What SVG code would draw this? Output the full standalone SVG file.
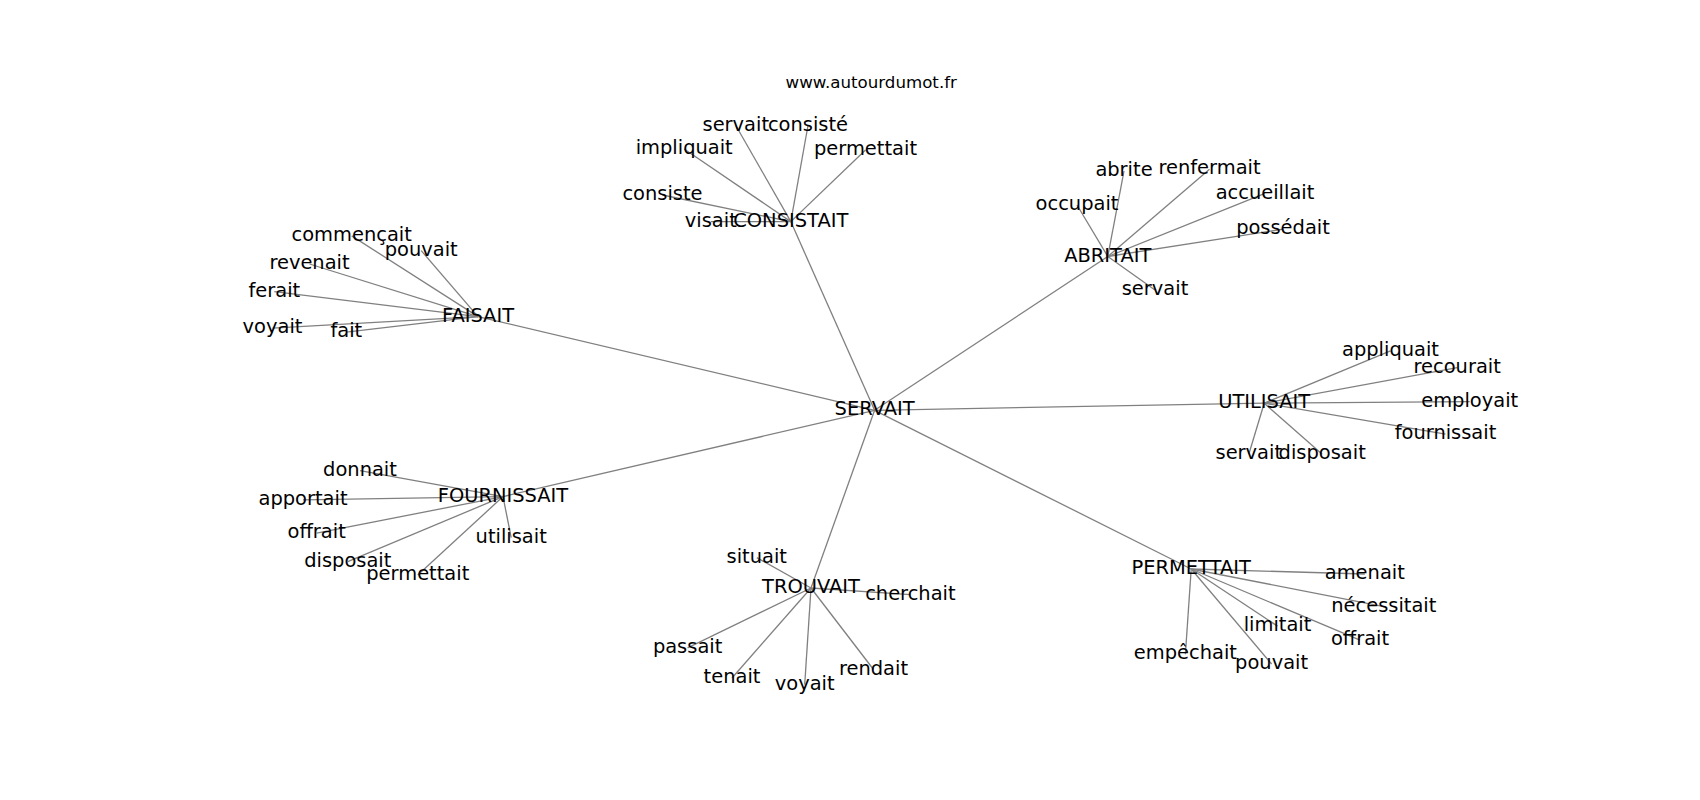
<svg xmlns="http://www.w3.org/2000/svg" width="1700" height="800" viewBox="0 0 1700 800">
<style>
text{font-family:"DejaVu Sans","Liberation Sans",sans-serif;fill:#000;text-anchor:middle}
.n text{font-size:19.44px}
.t{font-size:16.67px}
#edges line{stroke:#808080;stroke-width:1.3}
</style>
<rect width="1700" height="800" fill="#fff"/>
<text class="t" x="871.25" y="88">www.autourdumot.fr</text>
<g id="edges">
<line x1="874.6" y1="410.3" x2="790.8" y2="221.6"/>
<line x1="874.6" y1="410.3" x2="1107.8" y2="256.5"/>
<line x1="874.6" y1="410.3" x2="478" y2="316.6"/>
<line x1="874.6" y1="410.3" x2="1264.2" y2="403.2"/>
<line x1="874.6" y1="410.3" x2="503" y2="496.6"/>
<line x1="874.6" y1="410.3" x2="811" y2="588"/>
<line x1="874.6" y1="410.3" x2="1191.2" y2="569"/>
<line x1="790.8" y1="221.6" x2="735.8" y2="125.5"/>
<line x1="790.8" y1="221.6" x2="808" y2="125.5"/>
<line x1="790.8" y1="221.6" x2="684.2" y2="149"/>
<line x1="790.8" y1="221.6" x2="865.5" y2="150"/>
<line x1="790.8" y1="221.6" x2="662.5" y2="195"/>
<line x1="790.8" y1="221.6" x2="710.8" y2="221.6"/>
<line x1="1107.8" y1="256.5" x2="1124" y2="171"/>
<line x1="1107.8" y1="256.5" x2="1209.5" y2="169.2"/>
<line x1="1107.8" y1="256.5" x2="1077" y2="205"/>
<line x1="1107.8" y1="256.5" x2="1265" y2="193.4"/>
<line x1="1107.8" y1="256.5" x2="1283" y2="229.2"/>
<line x1="1107.8" y1="256.5" x2="1155" y2="290"/>
<line x1="478" y1="316.6" x2="351.7" y2="235.9"/>
<line x1="478" y1="316.6" x2="421.2" y2="250.6"/>
<line x1="478" y1="316.6" x2="309.5" y2="264"/>
<line x1="478" y1="316.6" x2="274.3" y2="291.6"/>
<line x1="478" y1="316.6" x2="272.5" y2="328.2"/>
<line x1="478" y1="316.6" x2="346.3" y2="332.2"/>
<line x1="1264.2" y1="403.2" x2="1390.5" y2="350.9"/>
<line x1="1264.2" y1="403.2" x2="1457.2" y2="367.6"/>
<line x1="1264.2" y1="403.2" x2="1469.7" y2="401.6"/>
<line x1="1264.2" y1="403.2" x2="1445.5" y2="434.2"/>
<line x1="1264.2" y1="403.2" x2="1248.8" y2="454.2"/>
<line x1="1264.2" y1="403.2" x2="1322.2" y2="454.2"/>
<line x1="503" y1="496.6" x2="360" y2="470.6"/>
<line x1="503" y1="496.6" x2="303" y2="499.9"/>
<line x1="503" y1="496.6" x2="316.7" y2="533.2"/>
<line x1="503" y1="496.6" x2="347.8" y2="561.6"/>
<line x1="503" y1="496.6" x2="417.8" y2="574.9"/>
<line x1="503" y1="496.6" x2="511.2" y2="537.6"/>
<line x1="811" y1="588" x2="756.8" y2="557.6"/>
<line x1="811" y1="588" x2="910.4" y2="594.6"/>
<line x1="811" y1="588" x2="687.6" y2="647.8"/>
<line x1="811" y1="588" x2="732" y2="678"/>
<line x1="811" y1="588" x2="804.7" y2="684.6"/>
<line x1="811" y1="588" x2="873.5" y2="669.5"/>
<line x1="1191.2" y1="569" x2="1364.8" y2="574"/>
<line x1="1191.2" y1="569" x2="1383.8" y2="606.6"/>
<line x1="1191.2" y1="569" x2="1277.5" y2="626.1"/>
<line x1="1191.2" y1="569" x2="1360" y2="640.2"/>
<line x1="1191.2" y1="569" x2="1185.4" y2="654.3"/>
<line x1="1191.2" y1="569" x2="1271.6" y2="664"/>
</g>
<g id="n-servait" class="n"><text x="874.6" y="415.4">SERVAIT</text></g>
<g id="n-consistait" class="n"><text x="790.8" y="226.7">CONSISTAIT</text></g>
<g id="n-abritait" class="n"><text x="1107.8" y="261.6">ABRITAIT</text></g>
<g id="n-faisait" class="n"><text x="478" y="321.7">FAISAIT</text></g>
<g id="n-utilisait" class="n"><text x="1264.2" y="408.3">UTILISAIT</text></g>
<g id="n-fournissait" class="n"><text x="503" y="501.7">FOURNISSAIT</text></g>
<g id="n-trouvait" class="n"><text x="811" y="593.1">TROUVAIT</text></g>
<g id="n-permettait" class="n"><text x="1191.2" y="574.1">PERMETTAIT</text></g>
<g id="n-c-servait" class="n"><text x="735.8" y="130.6">servait</text></g>
<g id="n-c-consiste2" class="n"><text x="808" y="130.6">consisté</text></g>
<g id="n-c-impliquait" class="n"><text x="684.2" y="154.1">impliquait</text></g>
<g id="n-c-permettait" class="n"><text x="865.5" y="155.1">permettait</text></g>
<g id="n-c-consiste" class="n"><text x="662.5" y="200.1">consiste</text></g>
<g id="n-c-visait" class="n"><text x="710.8" y="226.7">visait</text></g>
<g id="n-a-abrite" class="n"><text x="1124" y="176.1">abrite</text></g>
<g id="n-a-renfermait" class="n"><text x="1209.5" y="174.3">renfermait</text></g>
<g id="n-a-occupait" class="n"><text x="1077" y="210.1">occupait</text></g>
<g id="n-a-accueillait" class="n"><text x="1265" y="198.5">accueillait</text></g>
<g id="n-a-possedait" class="n"><text x="1283" y="234.3">possédait</text></g>
<g id="n-a-servait" class="n"><text x="1155" y="295.1">servait</text></g>
<g id="n-f-commencait" class="n"><text x="351.7" y="241">commençait</text></g>
<g id="n-f-pouvait" class="n"><text x="421.2" y="255.7">pouvait</text></g>
<g id="n-f-revenait" class="n"><text x="309.5" y="269.1">revenait</text></g>
<g id="n-f-ferait" class="n"><text x="274.3" y="296.7">ferait</text></g>
<g id="n-f-voyait" class="n"><text x="272.5" y="333.3">voyait</text></g>
<g id="n-f-fait" class="n"><text x="346.3" y="337.3">fait</text></g>
<g id="n-u-appliquait" class="n"><text x="1390.5" y="356">appliquait</text></g>
<g id="n-u-recourait" class="n"><text x="1457.2" y="372.7">recourait</text></g>
<g id="n-u-employait" class="n"><text x="1469.7" y="406.7">employait</text></g>
<g id="n-u-fournissait" class="n"><text x="1445.5" y="439.3">fournissait</text></g>
<g id="n-u-servait" class="n"><text x="1248.8" y="459.3">servait</text></g>
<g id="n-u-disposait" class="n"><text x="1322.2" y="459.3">disposait</text></g>
<g id="n-o-donnait" class="n"><text x="360" y="475.7">donnait</text></g>
<g id="n-o-apportait" class="n"><text x="303" y="505">apportait</text></g>
<g id="n-o-offrait" class="n"><text x="316.7" y="538.3">offrait</text></g>
<g id="n-o-disposait" class="n"><text x="347.8" y="566.7">disposait</text></g>
<g id="n-o-permettait" class="n"><text x="417.8" y="580">permettait</text></g>
<g id="n-o-utilisait" class="n"><text x="511.2" y="542.7">utilisait</text></g>
<g id="n-t-situait" class="n"><text x="756.8" y="562.7">situait</text></g>
<g id="n-t-cherchait" class="n"><text x="910.4" y="599.7">cherchait</text></g>
<g id="n-t-passait" class="n"><text x="687.6" y="652.9">passait</text></g>
<g id="n-t-tenait" class="n"><text x="732" y="683.1">tenait</text></g>
<g id="n-t-voyait" class="n"><text x="804.7" y="689.7">voyait</text></g>
<g id="n-t-rendait" class="n"><text x="873.5" y="674.6">rendait</text></g>
<g id="n-p-amenait" class="n"><text x="1364.8" y="579.1">amenait</text></g>
<g id="n-p-necessitait" class="n"><text x="1383.8" y="611.7">nécessitait</text></g>
<g id="n-p-limitait" class="n"><text x="1277.5" y="631.2">limitait</text></g>
<g id="n-p-offrait" class="n"><text x="1360" y="645.3">offrait</text></g>
<g id="n-p-empechait" class="n"><text x="1185.4" y="659.4">empêchait</text></g>
<g id="n-p-pouvait" class="n"><text x="1271.6" y="669.1">pouvait</text></g>
</svg>
